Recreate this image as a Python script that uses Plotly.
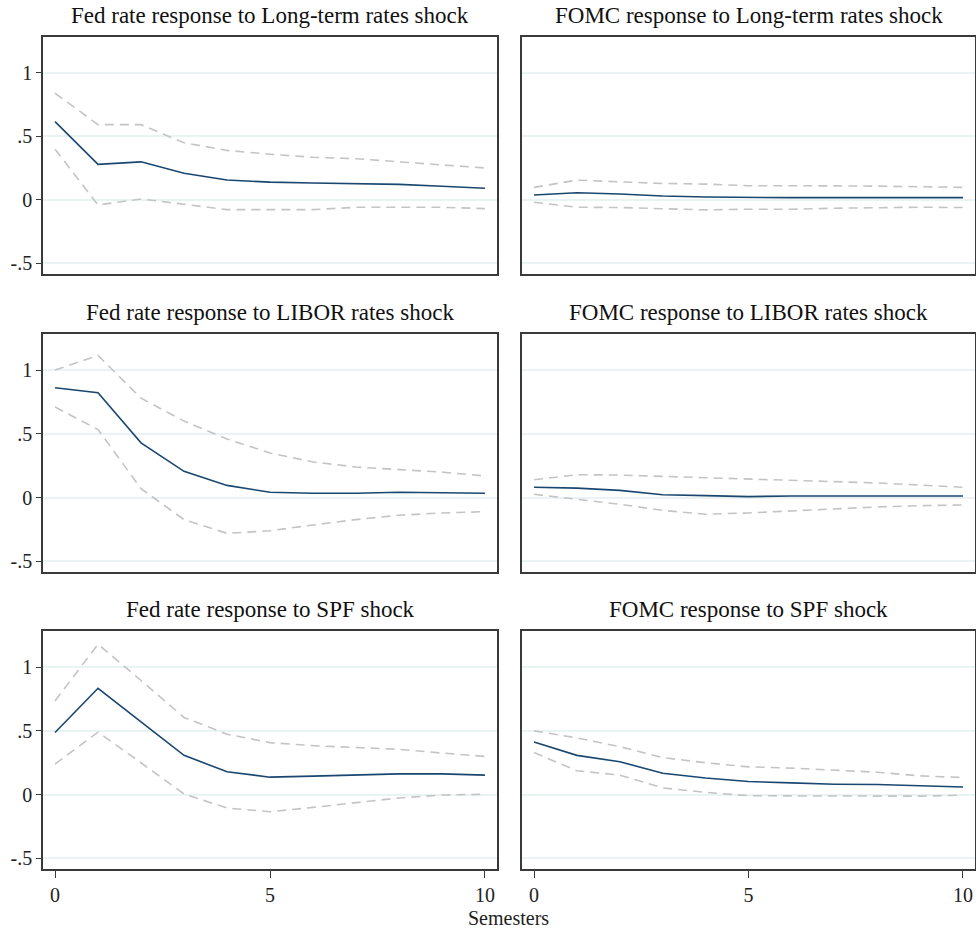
import plotly.graph_objects as go

# Horizon in semesters
horizon = list(range(11))

# Impulse responses (point estimate, upper and lower bands)
fed_lt_irf = [0.617, 0.28, 0.30, 0.21, 0.157, 0.14, 0.134, 0.128, 0.123, 0.108, 0.092]
fed_lt_hi = [0.84, 0.593, 0.593, 0.45, 0.39, 0.36, 0.336, 0.325, 0.30, 0.276, 0.252]
fed_lt_lo = [0.40, -0.04, 0.008, -0.037, -0.076, -0.076, -0.076, -0.058, -0.058, -0.058, -0.068]

fomc_lt_irf = [0.039, 0.057, 0.047, 0.031, 0.023, 0.018, 0.018, 0.018, 0.018, 0.018, 0.018]
fomc_lt_hi = [0.099, 0.156, 0.143, 0.13, 0.125, 0.112, 0.112, 0.112, 0.109, 0.104, 0.099]
fomc_lt_lo = [-0.018, -0.057, -0.06, -0.068, -0.078, -0.073, -0.073, -0.065, -0.062, -0.057, -0.06]

fed_libor_irf = [0.862, 0.823, 0.43, 0.206, 0.096, 0.042, 0.034, 0.034, 0.042, 0.036, 0.034]
fed_libor_hi = [1.0, 1.115, 0.78, 0.60, 0.46, 0.35, 0.28, 0.24, 0.22, 0.20, 0.17]
fed_libor_lo = [0.71, 0.534, 0.07, -0.172, -0.28, -0.26, -0.214, -0.172, -0.138, -0.12, -0.11]

fomc_libor_irf = [0.081, 0.075, 0.057, 0.023, 0.016, 0.008, 0.013, 0.013, 0.013, 0.013, 0.013]
fomc_libor_hi = [0.14, 0.18, 0.177, 0.167, 0.156, 0.146, 0.135, 0.128, 0.115, 0.099, 0.081]
fomc_libor_lo = [0.026, -0.013, -0.052, -0.10, -0.13, -0.12, -0.104, -0.086, -0.073, -0.063, -0.057]

fed_spf_irf = [0.487, 0.834, 0.57, 0.308, 0.18, 0.137, 0.145, 0.155, 0.163, 0.163, 0.153]
fed_spf_hi = [0.734, 1.18, 0.895, 0.605, 0.474, 0.408, 0.384, 0.368, 0.355, 0.326, 0.30]
fed_spf_lo = [0.24, 0.49, 0.25, 0.005, -0.105, -0.134, -0.10, -0.063, -0.026, -0.003, 0.003]

fomc_spf_irf = [0.413, 0.308, 0.258, 0.168, 0.13, 0.103, 0.092, 0.082, 0.079, 0.071, 0.06]
fomc_spf_hi = [0.50, 0.445, 0.376, 0.29, 0.25, 0.218, 0.208, 0.192, 0.176, 0.147, 0.134]
fomc_spf_lo = [0.33, 0.187, 0.153, 0.053, 0.018, -0.008, -0.01, -0.01, -0.01, -0.012, -0.003]

titles = [
    "Fed rate response to Long-term rates shock",
    "FOMC response to Long-term rates shock",
    "Fed rate response to LIBOR rates shock",
    "FOMC response to LIBOR rates shock",
    "Fed rate response to SPF shock",
    "FOMC response to SPF shock",
]
panels = [
    (fed_lt_irf, fed_lt_hi, fed_lt_lo),
    (fomc_lt_irf, fomc_lt_hi, fomc_lt_lo),
    (fed_libor_irf, fed_libor_hi, fed_libor_lo),
    (fomc_libor_irf, fomc_libor_hi, fomc_libor_lo),
    (fed_spf_irf, fed_spf_hi, fed_spf_lo),
    (fomc_spf_irf, fomc_spf_hi, fomc_spf_lo),
]
y_tickvals = [-0.5, 0, 0.5, 1]
y_ticktext = ["-.5", "0", ".5", "1"]
x_tickvals = [0, 5, 10]

W, H = 976, 932
FONT = "Liberation Serif"
IRF_COLOR = "#1a476f"
BAND_COLOR = "#c4c4c4"
GRID_COLOR = "#eaf2f3"
FRAME_COLOR = "#3a3a3a"
TEXT_COLOR = "#222222"

# Panel boxes in pixels: (left, right) per column, (top, bottom) per row
cols_px = [(43, 497), (522, 975)]
rows_px = [(37, 274), (334, 572), (631, 869)]

fig = go.Figure()
layout = dict(
    width=W, height=H,
    margin=dict(l=0, r=0, t=0, b=0),
    paper_bgcolor="white", plot_bgcolor="white",
    showlegend=False,
    font=dict(family=FONT, color=TEXT_COLOR, size=20),
)
annotations = []

for i, (irf, hi, lo) in enumerate(panels):
    r, c = divmod(i, 2)
    n = i + 1
    xa = "x" if n == 1 else f"x{n}"
    ya = "y" if n == 1 else f"y{n}"
    for series, color, dash in ((hi, BAND_COLOR, "9px,6px"), (lo, BAND_COLOR, "9px,6px"), (irf, IRF_COLOR, "solid")):
        fig.add_trace(go.Scatter(
            x=horizon, y=series, mode="lines", xaxis=xa, yaxis=ya,
            line=dict(color=color, width=1.6, dash=dash),
            hoverinfo="skip",
        ))
    l, rr = cols_px[c]
    t, b = rows_px[r]
    xkey = "xaxis" if n == 1 else f"xaxis{n}"
    ykey = "yaxis" if n == 1 else f"yaxis{n}"
    bottom = r == 2
    layout[xkey] = dict(
        domain=[l / W, rr / W], anchor=ya, range=[-0.28, 10.28],
        showgrid=False, zeroline=False, showline=True, mirror=True,
        linecolor=FRAME_COLOR, linewidth=1.5,
        tickvals=x_tickvals, showticklabels=bottom,
        ticks="outside" if bottom else "", ticklen=7, tickcolor=FRAME_COLOR, tickwidth=1,
        tickfont=dict(size=20, family=FONT, color=TEXT_COLOR),
    )
    layout[ykey] = dict(
        domain=[1 - b / H, 1 - t / H], anchor=xa, range=[-0.583, 1.283],
        showgrid=True, gridcolor=GRID_COLOR, gridwidth=1.5, zeroline=False,
        showline=True, mirror=True, linecolor=FRAME_COLOR, linewidth=1.5,
        tickvals=y_tickvals, ticktext=y_ticktext,
        showticklabels=(c == 0), ticks="outside" if c == 0 else "",
        ticklen=5, tickcolor=FRAME_COLOR, tickwidth=1,
        tickfont=dict(size=20, family=FONT, color=TEXT_COLOR),
    )
    annotations.append(dict(
        text=titles[i], x=(l + rr) / 2 / W, y=1 - (t - 7) / H,
        xref="paper", yref="paper", xanchor="center", yanchor="bottom",
        showarrow=False, font=dict(size=23, family=FONT, color="#111111"),
    ))

annotations.append(dict(
    text="Semesters", x=509 / W, y=1 - 918 / H, xref="paper", yref="paper",
    xanchor="center", yanchor="middle", showarrow=False,
    font=dict(size=20, family=FONT, color=TEXT_COLOR),
))
layout["annotations"] = annotations
fig.update_layout(**layout)
fig.write_html("out.html")
